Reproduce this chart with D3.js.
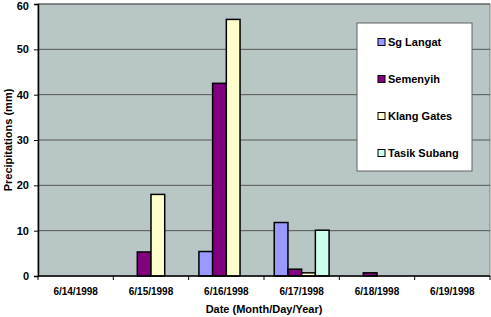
<!DOCTYPE html>
<html>
<head>
<meta charset="utf-8">
<script src="https://cdn.jsdelivr.net/npm/d3@7"></script>
<style>
body { margin: 0; background: #fff; }
svg { font-family: Arial, "Liberation Sans", sans-serif; font-weight: bold; }
</style>
</head>
<body>
<svg id="chart" width="491" height="317"></svg>
<script>
// data
let dates = ["6/14/1998", "6/15/1998", "6/16/1998", "6/17/1998", "6/18/1998", "6/19/1998"];
let stations = ["Sg Langat", "Semenyih", "Klang Gates", "Tasik Subang"];
let sgLangat = [0, 0, 5.4, 11.8, 0, 0];
let semenyih = [0, 5.3, 42.5, 1.5, 0.7, 0];
let klangGates = [0, 18.0, 56.6, 0.7, 0, 0];
let tasikSubang = [0, 0, 0, 10.1, 0, 0];
let yTicks = [0, 10, 20, 30, 40, 50, 60];
let colors = ["#9999ff", "#800080", "#ffffcc", "#ccffee"];

let series = [sgLangat, semenyih, klangGates, tasikSubang];

let svg = d3.select("#chart");
let plotLeft = 38, plotRight = 490, plotTop = 4, plotBottom = 276;

let x0 = d3.scaleBand()
    .domain(dates)
    .range([plotLeft, plotRight])
    .paddingInner(0.272)
    .paddingOuter(0.136);
let x1 = d3.scaleBand()
    .domain(stations)
    .range([0, x0.bandwidth()]);
let y = d3.scaleLinear()
    .domain([0, 60])
    .range([plotBottom, plotTop]);

// plot area
svg.append("rect")
    .attr("x", plotLeft).attr("y", plotTop)
    .attr("width", plotRight - plotLeft).attr("height", plotBottom - plotTop)
    .attr("fill", "#b8c6c6")
    .attr("stroke", "#808080");

// gridlines
svg.append("g").selectAll("line")
    .data(yTicks.slice(1))
    .enter().append("line")
    .attr("x1", plotLeft).attr("x2", plotRight)
    .attr("y1", d => y(d)).attr("y2", d => y(d))
    .attr("stroke", "#555");

// bars
let groups = svg.append("g").selectAll("g")
    .data(dates)
    .enter().append("g")
    .attr("transform", d => "translate(" + x0(d) + ",0)");
groups.selectAll("rect")
    .data((d, i) => stations.map((s, j) => ({ s: s, v: series[j][i], c: colors[j] })).filter(e => e.v > 0))
    .enter().append("rect")
    .attr("x", d => x1(d.s))
    .attr("y", d => y(d.v))
    .attr("width", x1.bandwidth())
    .attr("height", d => y(0) - y(d.v))
    .attr("fill", d => d.c)
    .attr("stroke", "#000")
    .attr("stroke-width", 1.5);

// y axis
let yAxis = d3.axisLeft(y).tickValues(yTicks).tickSize(4).tickPadding(5);
let ya = svg.append("g")
    .attr("transform", "translate(" + plotLeft + ",0)")
    .call(yAxis);
ya.select(".domain").attr("stroke", "#000").attr("stroke-width", 1.5);
ya.selectAll("text").attr("font-size", 11).attr("font-weight", "bold").attr("font-family", "Arial, sans-serif");
// top label would be clipped at the edge, nudge it down
ya.selectAll("text").filter(d => d === 60).attr("dy", "0.5em");

// x axis: ticks at category boundaries
let bounds = d3.range(dates.length + 1).map(i => plotLeft + i * (plotRight - plotLeft) / dates.length);
let xa = svg.append("g");
xa.append("line")
    .attr("x1", plotLeft).attr("x2", plotRight)
    .attr("y1", plotBottom).attr("y2", plotBottom)
    .attr("stroke", "#000").attr("stroke-width", 1.5);
xa.selectAll(".tick")
    .data(bounds)
    .enter().append("line")
    .attr("x1", d => d).attr("x2", d => d)
    .attr("y1", plotBottom).attr("y2", plotBottom + 4)
    .attr("stroke", "#000");
xa.selectAll("text")
    .data(dates)
    .enter().append("text")
    .attr("x", d => x0(d) + x0.bandwidth() / 2)
    .attr("y", 295)
    .attr("text-anchor", "middle")
    .attr("font-size", 10)
    .text(d => d);

// axis titles
svg.append("text")
    .attr("x", (plotLeft + plotRight) / 2)
    .attr("y", 313)
    .attr("text-anchor", "middle")
    .attr("font-size", 11)
    .text("Date (Month/Day/Year)");
svg.append("text")
    .attr("transform", "translate(12," + ((plotTop + plotBottom) / 2) + ") rotate(-90)")
    .attr("text-anchor", "middle")
    .attr("font-size", 11)
    .text("Precipitations (mm)");

// legend
let legend = svg.append("g");
legend.append("rect")
    .attr("x", 357).attr("y", 23)
    .attr("width", 115).attr("height", 148)
    .attr("fill", "#fff")
    .attr("stroke", "#606060");
let items = legend.selectAll(".item")
    .data(stations)
    .enter().append("g")
    .attr("transform", (d, i) => "translate(378," + (42 + i * 37) + ")");
items.append("rect")
    .attr("x", 0).attr("y", -3.5)
    .attr("width", 7).attr("height", 7)
    .attr("fill", (d, i) => colors[i])
    .attr("stroke", "#000");
items.append("text")
    .attr("x", 10).attr("y", 4)
    .attr("font-size", 11)
    .text(d => d);
</script>
</body>
</html>
